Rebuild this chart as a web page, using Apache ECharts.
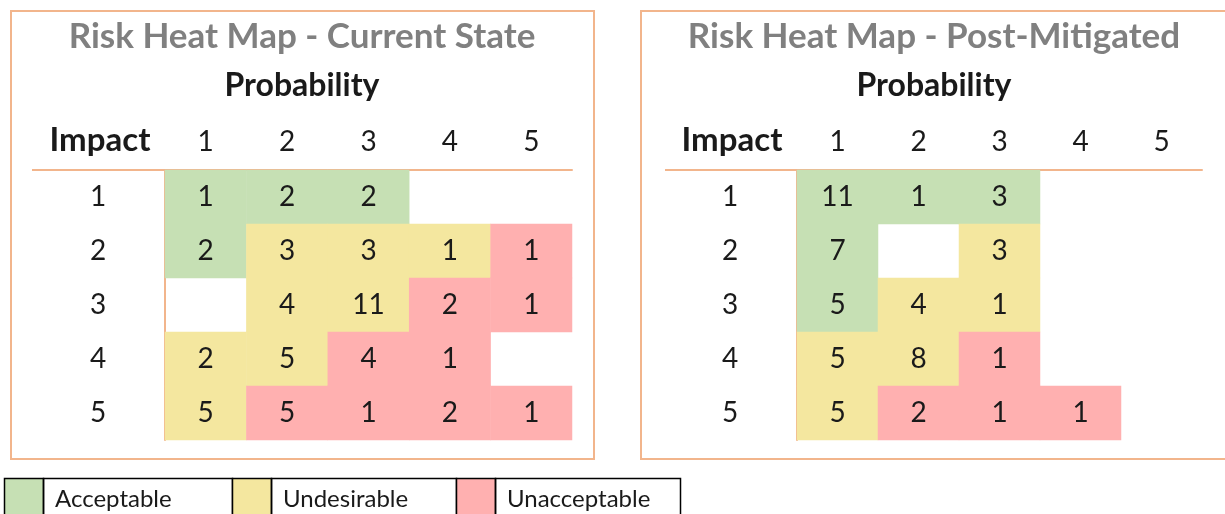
<!DOCTYPE html>
<html>
<head>
<meta charset="utf-8">
<title>Risk Heat Map</title>
<script src="https://cdn.jsdelivr.net/npm/echarts@6/dist/echarts.min.js"></script>
<style>
  html, body { margin: 0; padding: 0; background: #fff; }
  #riskChart { width: 1225px; height: 514px; }
</style>
</head>
<body>
<div id="riskChart"></div>
<script>
// tick labels
var probabilityLabels = ['1', '2', '3', '4', '5'];
var impactLabels = ['1', '2', '3', '4', '5'];

// risk levels (legend)
var levelNames = ['Acceptable', 'Undesirable', 'Unacceptable'];
var levelColors = ['#c6e0b4', '#f4e79f', '#ffb0b0'];

// current state: rows = impact 1..5, cols = probability 1..5, null = empty cell
var currentCounts = [
  [1, 2, 2, null, null],
  [2, 3, 3, 1, 1],
  [null, 4, 11, 2, 1],
  [2, 5, 4, 1, null],
  [5, 5, 1, 2, 1]
];
var currentLevels = [
  [0, 0, 0, null, null],
  [0, 1, 1, 1, 2],
  [null, 1, 1, 2, 2],
  [1, 1, 2, 2, null],
  [1, 2, 2, 2, 2]
];

// post-mitigated
var postCounts = [
  [11, 1, 3, null, null],
  [7, null, 3, null, null],
  [5, 4, 1, null, null],
  [5, 8, 1, null, null],
  [5, 2, 1, 1, null]
];
var postLevels = [
  [0, 0, 0, null, null],
  [0, null, 1, null, null],
  [0, 1, 1, null, null],
  [1, 1, 2, null, null],
  [1, 2, 2, 2, null]
];

var FONT = 'Lato, "Open Sans", sans-serif';
var ORANGE = '#f2b58c';
var TEXT = '#1a1a1a';

function toCells(counts, levels) {
  var cells = [];
  for (var r = 0; r < counts.length; r++) {
    for (var c = 0; c < counts[r].length; c++) {
      if (counts[r][c] === null) continue;
      cells.push([probabilityLabels[c], impactLabels[r], counts[r][c], levels[r][c]]);
    }
  }
  return cells;
}

function makeXAxis(gridIndex) {
  return {
    type: 'category',
    gridIndex: gridIndex,
    position: 'top',
    data: probabilityLabels,
    axisLine: { show: true, lineStyle: { color: ORANGE, width: 2 } },
    axisTick: { show: false },
    splitLine: { show: false },
    axisLabel: { margin: 14, fontSize: 28, color: TEXT, fontFamily: FONT }
  };
}

function makeYAxis(gridIndex) {
  return {
    type: 'category',
    gridIndex: gridIndex,
    data: impactLabels.slice().reverse(),
    name: 'Impact',
    nameLocation: 'end',
    nameGap: 13,
    nameTextStyle: {
      fontSize: 33, fontWeight: 'bold', color: TEXT, fontFamily: FONT,
      padding: [0, 130, 0, 0]
    },
    axisLine: { show: true, lineStyle: { color: ORANGE, width: 2 } },
    axisTick: { show: false },
    splitLine: { show: false },
    axisLabel: { align: 'center', margin: 67, fontSize: 28, color: TEXT, fontFamily: FONT }
  };
}

function makeSeries(name, index, data) {
  return {
    name: name,
    type: 'heatmap',
    xAxisIndex: index,
    yAxisIndex: index,
    data: data,
    label: {
      show: true,
      fontSize: 28,
      color: TEXT,
      fontFamily: FONT,
      formatter: function(p) { return p.value[2]; }
    },
    itemStyle: { borderWidth: 0 },
    emphasis: { disabled: true }
  };
}

// legend boxes at the bottom
function legendGraphics() {
  var starts = [4, 232, 456], cellW = 224, swatchW = 39, top = 478;
  var items = [];
  for (var i = 0; i < levelNames.length; i++) {
    var x = starts[i];
    items.push({
      type: 'rect', shape: { x: x + 0.5, y: top + 0.5, width: swatchW, height: 60 },
      style: { fill: levelColors[i], stroke: '#000', lineWidth: 1.5 }
    });
    items.push({
      type: 'rect', shape: { x: x + swatchW + 0.5, y: top + 0.5, width: (i === 0 ? 228 : cellW) - swatchW, height: 60 },
      style: { fill: 'none', stroke: '#000', lineWidth: 1.5 }
    });
    items.push({
      type: 'text', x: x + swatchW + 12, y: top + 21,
      style: { text: levelNames[i], fill: TEXT, font: '24px ' + FONT, textVerticalAlign: 'middle' }
    });
  }
  return items;
}

var chart = echarts.init(document.getElementById('riskChart'));

chart.setOption({
  backgroundColor: '#fff',
  animation: false,
  title: [
    { text: 'Risk Heat Map - Current State', left: 302, top: 19, textAlign: 'center', padding: 0,
      textStyle: { fontSize: 35, fontWeight: 'bold', color: '#808080', fontFamily: FONT } },
    { text: 'Probability', left: 302, top: 70, textAlign: 'center', padding: 0,
      textStyle: { fontSize: 32, fontWeight: 'bold', color: TEXT, fontFamily: FONT } },
    { text: 'Risk Heat Map - Post-Mitigated', left: 934, top: 19, textAlign: 'center', padding: 0,
      textStyle: { fontSize: 35, fontWeight: 'bold', color: '#808080', fontFamily: FONT } },
    { text: 'Probability', left: 934, top: 70, textAlign: 'center', padding: 0,
      textStyle: { fontSize: 32, fontWeight: 'bold', color: TEXT, fontFamily: FONT } }
  ],
  grid: [
    { left: 165, top: 170, width: 407, height: 270 },
    { left: 797, top: 170, width: 405, height: 270 }
  ],
  xAxis: [makeXAxis(0), makeXAxis(1)],
  yAxis: [makeYAxis(0), makeYAxis(1)],
  visualMap: {
    type: 'piecewise',
    show: false,
    dimension: 3,
    seriesIndex: [0, 1],
    pieces: [
      { value: 0, color: levelColors[0] },
      { value: 1, color: levelColors[1] },
      { value: 2, color: levelColors[2] }
    ]
  },
  series: [
    makeSeries('Current State', 0, toCells(currentCounts, currentLevels)),
    makeSeries('Post-Mitigated', 1, toCells(postCounts, postLevels))
  ],
  graphic: [
    // panel frames
    { type: 'rect', shape: { x: 11, y: 11, width: 583, height: 448 },
      style: { fill: 'none', stroke: ORANGE, lineWidth: 2 }, z: -1 },
    { type: 'rect', shape: { x: 641, y: 11, width: 620, height: 448 },
      style: { fill: 'none', stroke: ORANGE, lineWidth: 2 }, z: -1 },
    // header rule extends left of the grid
    { type: 'line', shape: { x1: 32, y1: 170, x2: 165, y2: 170 },
      style: { stroke: ORANGE, lineWidth: 2 } },
    { type: 'line', shape: { x1: 665, y1: 170, x2: 797, y2: 170 },
      style: { stroke: ORANGE, lineWidth: 2 } }
  ].concat(legendGraphics())
});
</script>
</body>
</html>
